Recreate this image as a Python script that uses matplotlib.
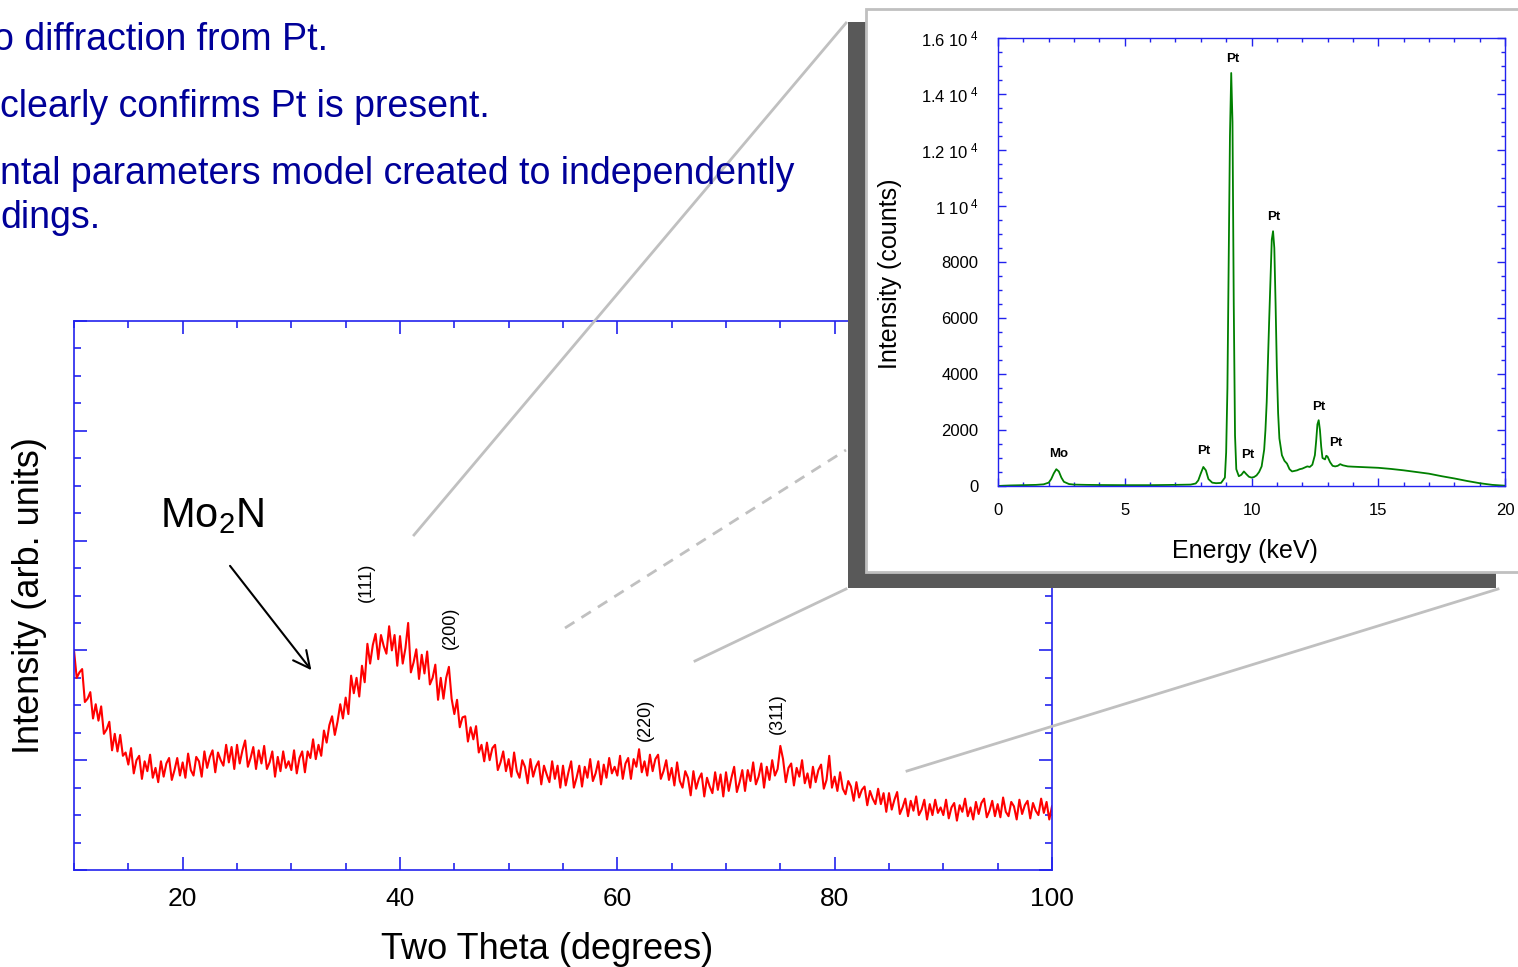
import numpy as np
import matplotlib.pyplot as plt
from matplotlib.patches import Rectangle
from matplotlib.lines import Line2D
from matplotlib.ticker import MultipleLocator, FixedLocator

plt.rcParams['font.family'] = ['Liberation Sans', 'DejaVu Sans']
plt.rcParams['mathtext.fontset'] = 'custom'
plt.rcParams['mathtext.rm'] = 'Liberation Sans'
plt.rcParams['mathtext.it'] = 'Liberation Sans:italic'
plt.rcParams['mathtext.bf'] = 'Liberation Sans:bold'

# ---- data -------------------------------------------------------------
# XRD scan, 10..100 deg two theta, read every 0.25 deg
xrd_intensity = [
    2.00, 1.75, 1.80, 1.83, 1.53, 1.56, 1.62, 1.38, 1.51, 1.36, 1.49, 1.24, 1.28, 1.35, 1.09, 1.24, 1.08, 1.23, 1.04, 1.07,
    0.96, 1.11, 0.88, 1.00, 1.04, 0.83, 0.99, 0.90, 1.05, 0.84, 0.93, 0.80, 0.99, 0.85, 0.97, 1.02, 0.82, 0.91, 1.02, 0.86,
    0.98, 0.84, 1.06, 0.91, 0.86, 1.03, 0.99, 0.85, 1.08, 0.93, 1.03, 1.09, 0.89, 1.07, 1.00, 0.95, 1.14, 0.98, 1.12, 0.92,
    1.14, 0.97, 1.09, 1.18, 0.94, 1.02, 1.12, 0.92, 1.09, 0.97, 1.13, 0.92, 0.98, 1.08, 0.85, 1.03, 0.90, 1.08, 0.93, 0.99,
    0.91, 1.09, 0.88, 1.02, 1.08, 0.89, 1.08, 1.02, 1.19, 1.01, 1.14, 1.04, 1.27, 1.16, 1.32, 1.40, 1.23, 1.35, 1.51, 1.38,
    1.57, 1.42, 1.77, 1.61, 1.75, 1.58, 1.86, 1.71, 2.06, 1.88, 2.05, 2.15, 1.92, 2.14, 2.04, 1.97, 2.22, 2.00, 2.14, 1.86,
    2.13, 1.88, 2.02, 2.25, 1.80, 1.89, 2.01, 1.74, 1.96, 1.79, 1.99, 1.69, 1.75, 1.87, 1.55, 1.75, 1.56, 1.75, 1.85, 1.56,
    1.42, 1.55, 1.30, 1.39, 1.40, 1.17, 1.30, 1.19, 1.31, 1.07, 1.14, 0.99, 1.16, 1.00, 1.11, 1.14, 0.91, 0.98, 1.08, 0.90,
    1.01, 0.85, 1.07, 0.90, 0.84, 1.00, 0.94, 0.79, 1.01, 0.85, 0.94, 0.99, 0.78, 0.95, 0.87, 0.80, 0.99, 0.83, 0.95, 0.75,
    0.95, 0.77, 0.89, 0.99, 0.75, 0.84, 0.95, 0.76, 0.94, 0.84, 1.01, 0.81, 0.88, 0.99, 0.78, 0.96, 0.84, 1.02, 0.88, 0.94,
    0.86, 1.04, 0.83, 0.97, 1.02, 0.83, 1.01, 0.94, 1.10, 0.89, 0.99, 0.86, 1.05, 0.90, 1.01, 1.05, 0.83, 0.90, 1.00, 0.82,
    0.93, 0.77, 0.98, 0.81, 0.75, 0.90, 0.84, 0.68, 0.90, 0.74, 0.83, 0.88, 0.67, 0.84, 0.76, 0.70, 0.89, 0.73, 0.87, 0.67,
    0.89, 0.72, 0.84, 0.94, 0.71, 0.80, 0.91, 0.72, 0.91, 0.81, 0.98, 0.78, 0.85, 0.97, 0.75, 0.94, 0.82, 1.00, 0.86, 0.92,
    1.13, 1.01, 0.80, 0.93, 0.97, 0.77, 0.93, 0.85, 1.00, 0.79, 0.88, 0.75, 0.94, 0.80, 0.91, 0.96, 0.74, 0.82, 1.04, 0.75,
    0.85, 0.72, 0.89, 0.74, 0.69, 0.81, 0.76, 0.63, 0.80, 0.66, 0.73, 0.76, 0.59, 0.72, 0.65, 0.60, 0.74, 0.60, 0.70, 0.53,
    0.70, 0.55, 0.64, 0.71, 0.51, 0.57, 0.65, 0.49, 0.63, 0.54, 0.67, 0.50, 0.55, 0.64, 0.46, 0.60, 0.50, 0.64, 0.52, 0.57,
    0.50, 0.64, 0.47, 0.57, 0.61, 0.45, 0.59, 0.53, 0.65, 0.49, 0.57, 0.46, 0.62, 0.51, 0.61, 0.65, 0.48, 0.54, 0.63, 0.49,
    0.60, 0.48, 0.66, 0.53, 0.49, 0.62, 0.58, 0.46, 0.64, 0.51, 0.59, 0.63, 0.47, 0.61, 0.54, 0.50, 0.65, 0.52, 0.62, 0.46,
    0.58,
]
two_theta = np.linspace(10, 100, len(xrd_intensity))

hkl_labels = ['(111)', '(200)', '(220)', '(311)']
hkl_theta = [36.9, 44.6, 62.6, 74.7]
hkl_height = [2.62, 2.21, 1.37, 1.42]

# EDS spectrum
energy_kev = [0.0, 0.2, 0.5, 1.0, 1.5, 1.8, 2.0, 2.1, 2.2, 2.3, 2.4, 2.5, 2.6, 2.8, 3.0, 3.5, 4.0, 5.0, 6.0, 7.0,
              7.6, 7.8, 7.9, 8.0, 8.1, 8.2, 8.3, 8.45, 8.6, 8.8, 8.95, 9.0, 9.05, 9.1, 9.15, 9.2, 9.25, 9.3, 9.35, 9.4,
              9.5, 9.6, 9.7, 9.8, 9.9, 10.0, 10.1, 10.2, 10.3, 10.4, 10.5, 10.55, 10.6, 10.7, 10.8, 10.85, 10.9, 10.95, 11.0, 11.05,
              11.1, 11.2, 11.3, 11.4, 11.5, 11.6, 11.7, 11.8, 11.9, 12.0, 12.1, 12.2, 12.3, 12.4, 12.5, 12.55, 12.6, 12.65, 12.7, 12.75,
              12.8, 12.9, 12.95, 13.0, 13.1, 13.2, 13.3, 13.4, 13.5, 13.6, 13.8, 14.0, 14.5, 15.0, 15.5, 16.0, 16.5, 17.0, 17.5, 18.0,
              18.5, 19.0, 19.5, 20.0]
eds_counts = [0, 10, 20, 30, 40, 60, 120, 250, 450, 600, 520, 300, 150, 70, 50, 40, 35, 30, 30, 40,
              50, 90, 200, 450, 680, 560, 250, 120, 100, 110, 300, 1200, 3500, 8000, 12500, 14750, 13000, 6500, 1800, 600,
              350, 400, 520, 420, 330, 300, 320, 380, 500, 700, 1300, 2000, 3000, 6000, 8800, 9100, 8500, 6500, 4200, 2600,
              1700, 1100, 900, 800, 600, 520, 540, 560, 600, 620, 660, 700, 680, 760, 1100, 1600, 2200, 2350, 2000, 1400,
              1000, 950, 1080, 1050, 850, 720, 700, 720, 780, 740, 700, 690, 670, 650, 610, 560, 500, 440, 350, 270,
              180, 100, 40, 10]

eds_peak_labels = ['Mo', 'Pt', 'Pt', 'Pt', 'Pt', 'Pt', 'Pt']
eds_peak_kev = [2.41, 8.13, 9.27, 9.86, 10.89, 12.66, 13.33]
eds_peak_counts = [1143, 1250, 15250, 1107, 9607, 2821, 1536]

eds_ytick_values = [0, 2000, 4000, 6000, 8000, 10000, 12000, 14000, 16000]
eds_ytick_labels = ['0', '2000', '4000', '6000', '8000', r'1 10$^{\;4}$', r'1.2 10$^{\;4}$',
                    r'1.4 10$^{\;4}$', r'1.6 10$^{\;4}$']

slide_lines = ['o diffraction from Pt.',
               'clearly confirms Pt is present.',
               'ntal parameters model created to independently',
               'dings.']

# ---- layout helpers (pixel -> figure fraction) -------------------------
W, H = 1518, 967


def fx(px):
    return px / W


def fy(py):
    return 1 - py / H


BLUE = '#2222ee'
GREY = '#c0c0c0'

fig = plt.figure(figsize=(W / 100, H / 100), dpi=100)

# slide text
for s, px, base in zip(slide_lines, [-7, 0, 0, 0], [50, 117, 184, 228]):
    fig.text(fx(px), fy(base), s, fontsize=27, color='#000099', ha='left', va='baseline')

# ---- main XRD plot ------------------------------------------------------
ax = fig.add_axes([fx(74), fy(870), fx(1052) - fx(74), fy(321) - fy(870)])
ax.plot(two_theta, xrd_intensity, color='#ff0000', lw=1.5)
ax.set_xlim(10, 100)
ax.set_ylim(0, 5)
ax.xaxis.set_major_locator(MultipleLocator(20))
ax.xaxis.set_minor_locator(MultipleLocator(5))
ax.yaxis.set_major_locator(MultipleLocator(1))
ax.yaxis.set_minor_locator(MultipleLocator(0.25))
ax.tick_params(which='both', direction='in', top=True, right=True, color=BLUE, width=1.2)
ax.tick_params(which='major', length=9.5, labelsize=19, pad=12)
ax.tick_params(which='minor', length=5)
ax.tick_params(axis='y', labelleft=False)
for sp in ax.spines.values():
    sp.set_color(BLUE)
    sp.set_linewidth(1.2)
ax.set_xlabel('Two Theta (degrees)', fontsize=26)
ax.xaxis.set_label_coords(0.484, -0.113)
ax.set_ylabel('Intensity (arb. units)', fontsize=26)
ax.yaxis.set_label_coords(-0.028, 0.5)

for lab, t, h in zip(hkl_labels, hkl_theta, hkl_height):
    ax.text(t, h, lab, rotation=90, fontsize=13, ha='center', va='center')

ax.text(17.9, 3.22, 'Mo$_2$N', fontsize=30, ha='left', va='center')
ax.annotate('', xy=(32.0, 1.80), xytext=(24.2, 2.79),
            arrowprops=dict(arrowstyle='->', color='black', lw=1.5, mutation_scale=30))

# connector lines from the pattern to the EDS inset
fig.add_artist(Line2D([fx(414), fx(846)], [fy(535), fy(23)], transform=fig.transFigure,
                      color=GREY, lw=2, zorder=2))
fig.add_artist(Line2D([fx(565), fx(846)], [fy(628), fy(450)], transform=fig.transFigure,
                      color=GREY, lw=2, ls=(0, (4, 3)), zorder=2))
fig.add_artist(Line2D([fx(695), fx(846)], [fy(661), fy(589)], transform=fig.transFigure,
                      color=GREY, lw=2, zorder=2))
fig.add_artist(Line2D([fx(907), fx(1498)], [fy(771), fy(589)], transform=fig.transFigure,
                      color=GREY, lw=2, zorder=2))

# shadow + white panel
fig.add_artist(Rectangle((fx(848), fy(588)), fx(866) - fx(848), fy(22) - fy(588),
                         transform=fig.transFigure, facecolor='#595959', edgecolor='none', zorder=5))
fig.add_artist(Rectangle((fx(848), fy(588)), fx(1496) - fx(848), fy(572) - fy(588),
                         transform=fig.transFigure, facecolor='#595959', edgecolor='none', zorder=5))
fig.add_artist(Rectangle((fx(866), fy(572)), fx(1540) - fx(866), fy(9) - fy(572),
                         transform=fig.transFigure, facecolor='white', edgecolor=GREY, lw=2, zorder=6))

# ---- EDS inset ------------------------------------------------------------
ax_in = fig.add_axes([fx(998), fy(486), fx(1505) - fx(998), fy(38) - fy(486)])
ax_in.set_zorder(10)
ax_in.plot(energy_kev, eds_counts, color='#008000', lw=1.3)
ax_in.set_xlim(0, 20)
ax_in.set_ylim(0, 16000)
ax_in.xaxis.set_major_locator(MultipleLocator(5))
ax_in.xaxis.set_minor_locator(MultipleLocator(1))
ax_in.yaxis.set_major_locator(FixedLocator(eds_ytick_values))
ax_in.yaxis.set_minor_locator(MultipleLocator(500))
ax_in.set_yticklabels(eds_ytick_labels)
ax_in.tick_params(which='both', direction='in', top=True, right=True, color=BLUE, width=1)
ax_in.tick_params(which='major', length=6, labelsize=12)
ax_in.tick_params(which='minor', length=3)
ax_in.tick_params(axis='x', pad=12)
ax_in.tick_params(axis='y', pad=14)
for sp in ax_in.spines.values():
    sp.set_color(BLUE)
    sp.set_linewidth(1)
ax_in.set_xlabel('Energy (keV)', fontsize=18)
ax_in.xaxis.set_label_coords(0.487, -0.118)
ax_in.set_ylabel('Intensity (counts)', fontsize=18)
ax_in.yaxis.set_label_coords(-0.19, 0.473)

for lab, e, c in zip(eds_peak_labels, eds_peak_kev, eds_peak_counts):
    ax_in.text(e, c, lab, fontsize=9.5, fontweight='bold', ha='center', va='center')

fig.savefig('out.png', dpi=100)
